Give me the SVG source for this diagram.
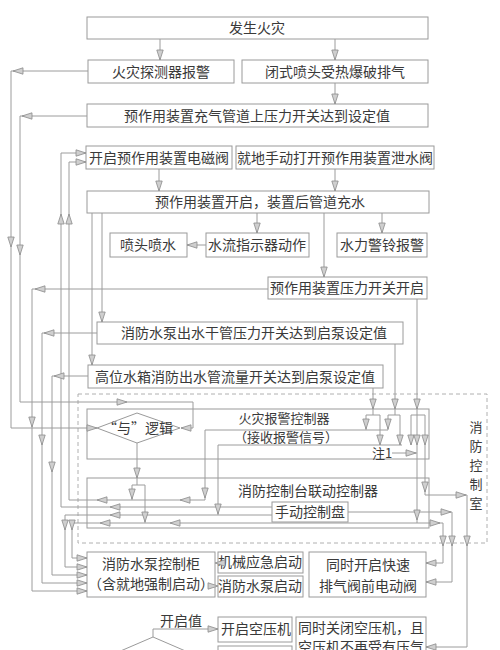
<svg xmlns="http://www.w3.org/2000/svg" xmlns:xlink="http://www.w3.org/1999/xlink" width="500" height="650" viewBox="0 0 500 650">
<style>
.bx{fill:#fff;stroke:#9a9a9a;stroke-width:1}
.ln{fill:none;stroke:#9c9c9c;stroke-width:1}
.ah{fill:#cfcfcf;stroke:#8a8a8a;stroke-width:0.8}
.t{font-family:"Noto Sans CJK SC","Noto Sans",sans-serif;font-size:14px;fill:#3a3a3a;text-anchor:middle}
.s{font-size:13px}
.dash{fill:none;stroke:#b0b0b0;stroke-width:1;stroke-dasharray:4,3}
</style>
<defs>
<path id="ar" class="ah" d="M0,0 L-10,-3.2 L-10,3.2 Z"/>
</defs>
<rect width="500" height="650" fill="#fff"/>

<rect id="control-room" class="dash" x="78" y="394" width="409" height="149"/>

<g id="n1"><rect class="bx" x="87" y="17" width="341" height="22"/><text class="t" x="257" y="33">发生火灾</text></g>
<g id="n2"><rect class="bx" x="88" y="60" width="146" height="23"/><text class="t" x="161" y="77">火灾探测器报警</text></g>
<g id="n3"><rect class="bx" x="242" y="60" width="186" height="23"/><text class="t" x="335" y="77">闭式喷头受热爆破排气</text></g>
<g id="n4"><rect class="bx" x="87" y="104" width="341" height="23"/><text class="t" x="257" y="121">预作用装置充气管道上压力开关达到设定值</text></g>
<g id="n5"><rect class="bx" x="86" y="146" width="146" height="23"/><text class="t" x="159" y="163">开启预作用装置电磁阀</text></g>
<g id="n6"><rect class="bx" x="236" y="146" width="198" height="23"/><text class="t" x="335" y="163">就地手动打开预作用装置泄水阀</text></g>
<g id="n7"><rect class="bx" x="87" y="191" width="342" height="22"/><text class="t" x="260" y="207">预作用装置开启，装置后管道充水</text></g>
<g id="n8"><rect class="bx" x="110" y="233" width="77" height="24"/><text class="t" x="148" y="250">喷头喷水</text></g>
<g id="n9"><rect class="bx" x="206" y="233" width="103" height="24"/><text class="t" x="257" y="250">水流指示器动作</text></g>
<g id="n10"><rect class="bx" x="337" y="233" width="90" height="24"/><text class="t" x="382" y="250">水力警铃报警</text></g>
<g id="n11"><rect class="bx" x="268" y="277" width="159" height="22"/><text class="t" x="347" y="293">预作用装置压力开关开启</text></g>
<g id="n12"><rect class="bx" x="97" y="322" width="306" height="22"/><text class="t" x="254" y="338">消防水泵出水干管压力开关达到启泵设定值</text></g>
<g id="n13"><rect class="bx" x="88" y="365" width="295" height="23"/><text class="t" x="235" y="382">高位水箱消防出水管流量开关达到启泵设定值</text></g>
<g id="n14"><rect class="bx" x="87" y="409" width="342" height="50"/><text class="t s" x="284" y="423">火灾报警控制器</text><text class="t s" x="286" y="442">（接收报警信号）</text></g>
<g id="n-and"><polygon class="bx" points="97,428 137,413 180,428 137,443"/><text class="t" x="138" y="433">“与”逻辑</text></g>
<g id="note1"><text class="t s" x="382" y="458">注1</text></g>
<g id="n15"><rect class="bx" x="87" y="478" width="342" height="50"/><text class="t" x="308" y="496">消防控制台联动控制器</text></g>
<g id="n16"><rect class="bx" x="272" y="502" width="76" height="20"/><text class="t" x="310" y="517">手动控制盘</text></g>
<g id="room-label"><text class="t s" x="476" y="432">消</text><text class="t s" x="476" y="451">防</text><text class="t s" x="476" y="470">控</text><text class="t s" x="476" y="489">制</text><text class="t s" x="476" y="508">室</text></g>
<g id="n17"><rect class="bx" x="87" y="552" width="128" height="45"/><text class="t" x="151" y="569">消防水泵控制柜</text><text class="t" x="151" y="589">（含就地强制启动）</text></g>
<g id="n18"><rect class="bx" x="218" y="552" width="85" height="21"/><text class="t" x="260" y="567">机械应急启动</text></g>
<g id="n19"><rect class="bx" x="218" y="576" width="85" height="21"/><text class="t" x="260" y="591">消防水泵启动</text></g>
<g id="n20"><rect class="bx" x="309" y="552" width="117" height="45"/><text class="t" x="368" y="570">同时开启快速</text><text class="t" x="368" y="591">排气阀前电动阀</text></g>
<g id="n-open"><polygon class="bx" points="153,637 95,662 153,687 211,662"/><text class="t" x="181" y="626">开启值</text></g>
<g id="n21"><rect class="bx" x="218" y="617" width="74" height="25"/><text class="t" x="256" y="634">开启空压机</text></g>
<g id="n21b"><rect class="bx" x="218" y="646" width="74" height="20"/></g>
<g id="n22"><rect class="bx" x="296" y="617" width="130" height="45"/><text class="t" x="361" y="633">同时关闭空压机，且</text><text class="t" x="361" y="652">空压机不再受有压气</text></g>

<g id="connectors">
<path class="ln" d="M160,39V60M335,39V60M335,83V104"/>
<path class="ln" d="M88,71H11V428H97"/>
<path class="ln" d="M87,116H20V402H193V428H181"/>
<path class="ln" d="M159,169V191M335,169V191M257,213V233M382,213V233M206,245H187M324,213V277M102,213V322M92,213V365"/>
<path class="ln" d="M268,289H32V591H87"/>
<path class="ln" d="M97,333H42V583H87"/>
<path class="ln" d="M88,376H52V575H87"/>
<path class="ln" d="M373,388V415M366,430V415H380V445"/>
<path class="ln" d="M395,344V415M388,430V415H400V445"/>
<path class="ln" d="M417,299V523M411,445V415H425V495H467V647H426"/>
<path class="ln" d="M392,453H417"/>
<path class="ln" d="M388,430H205V500H69V162H86"/>
<path class="ln" d="M402,445H218V515"/>
<path class="ln" d="M137,443V485M132,500V485H145V523"/>
<path class="ln" d="M272,507H61V153H86"/>
<path class="ln" d="M272,515H65V567H87"/>
<path class="ln" d="M426,563H443V523H72V558H87"/>
<path class="ln" d="M348,512H452V582H426"/>
<path class="ln" d="M153,637V629H218"/>

<g>
<use xlink:href="#ar" transform="translate(160,60) rotate(90)"/>
<use xlink:href="#ar" transform="translate(335,60) rotate(90)"/>
<use xlink:href="#ar" transform="translate(335,104) rotate(90)"/>
<use xlink:href="#ar" transform="translate(11,247) rotate(90)"/>
<use xlink:href="#ar" transform="translate(20,255) rotate(90)"/>
<use xlink:href="#ar" transform="translate(159,191) rotate(90)"/>
<use xlink:href="#ar" transform="translate(335,191) rotate(90)"/>
<use xlink:href="#ar" transform="translate(257,233) rotate(90)"/>
<use xlink:href="#ar" transform="translate(382,233) rotate(90)"/>
<use xlink:href="#ar" transform="translate(324,277) rotate(90)"/>
<use xlink:href="#ar" transform="translate(102,322) rotate(90)"/>
<use xlink:href="#ar" transform="translate(92,365) rotate(90)"/>
<use xlink:href="#ar" transform="translate(32,427) rotate(90)"/>
<use xlink:href="#ar" transform="translate(42,445) rotate(90)"/>
<use xlink:href="#ar" transform="translate(52,472) rotate(90)"/>
<use xlink:href="#ar" transform="translate(373,409) rotate(90)"/>
<use xlink:href="#ar" transform="translate(395,409) rotate(90)"/>
<use xlink:href="#ar" transform="translate(417,409) rotate(90)"/>
<use xlink:href="#ar" transform="translate(366,429) rotate(90)"/>
<use xlink:href="#ar" transform="translate(388,429) rotate(90)"/>
<use xlink:href="#ar" transform="translate(380,445) rotate(90)"/>
<use xlink:href="#ar" transform="translate(400,445) rotate(90)"/>
<use xlink:href="#ar" transform="translate(411,445) rotate(90)"/>
<use xlink:href="#ar" transform="translate(417,445) rotate(90)"/>
<use xlink:href="#ar" transform="translate(425,445) rotate(90)"/>
<use xlink:href="#ar" transform="translate(425,492) rotate(90)"/>
<use xlink:href="#ar" transform="translate(417,520) rotate(90)"/>
<use xlink:href="#ar" transform="translate(205,498) rotate(90)"/>
<use xlink:href="#ar" transform="translate(218,514) rotate(90)"/>
<use xlink:href="#ar" transform="translate(137,478) rotate(90)"/>
<use xlink:href="#ar" transform="translate(132,499) rotate(90)"/>
<use xlink:href="#ar" transform="translate(145,522) rotate(90)"/>
<use xlink:href="#ar" transform="translate(65,530) rotate(90)"/>
<use xlink:href="#ar" transform="translate(72,530) rotate(90)"/>
<use xlink:href="#ar" transform="translate(443,546) rotate(90)"/>
<use xlink:href="#ar" transform="translate(452,546) rotate(90)"/>
<use xlink:href="#ar" transform="translate(467,546) rotate(90)"/>
</g>
<g>
<use xlink:href="#ar" transform="translate(61,214) rotate(-90)"/>
<use xlink:href="#ar" transform="translate(69,214) rotate(-90)"/>
</g>
<g>
<use xlink:href="#ar" transform="translate(13,71) rotate(180)"/>
<use xlink:href="#ar" transform="translate(22,116) rotate(180)"/>
<use xlink:href="#ar" transform="translate(187,245) rotate(180)"/>
<use xlink:href="#ar" transform="translate(35,289) rotate(180)"/>
<use xlink:href="#ar" transform="translate(44,333) rotate(180)"/>
<use xlink:href="#ar" transform="translate(54,376) rotate(180)"/>
<use xlink:href="#ar" transform="translate(181,428) rotate(180)"/>
<use xlink:href="#ar" transform="translate(180,500) rotate(180)"/>
<use xlink:href="#ar" transform="translate(97,500) rotate(180)"/>
<use xlink:href="#ar" transform="translate(110,507) rotate(180)"/>
<use xlink:href="#ar" transform="translate(110,515) rotate(180)"/>
<use xlink:href="#ar" transform="translate(170,523) rotate(180)"/>
<use xlink:href="#ar" transform="translate(100,523) rotate(180)"/>
<use xlink:href="#ar" transform="translate(426,563) rotate(180)"/>
<use xlink:href="#ar" transform="translate(426,582) rotate(180)"/>
<use xlink:href="#ar" transform="translate(426,647) rotate(180)"/>
<use xlink:href="#ar" transform="translate(215,563) rotate(180)"/>
</g>
<g>
<use xlink:href="#ar" transform="translate(97,428)"/>
<use xlink:href="#ar" transform="translate(127,402)"/>
<use xlink:href="#ar" transform="translate(86,153)"/>
<use xlink:href="#ar" transform="translate(86,162)"/>
<use xlink:href="#ar" transform="translate(87,558)"/>
<use xlink:href="#ar" transform="translate(87,567)"/>
<use xlink:href="#ar" transform="translate(87,575)"/>
<use xlink:href="#ar" transform="translate(87,583)"/>
<use xlink:href="#ar" transform="translate(87,591)"/>
<use xlink:href="#ar" transform="translate(416,453)"/>
<use xlink:href="#ar" transform="translate(466,495)"/>
<use xlink:href="#ar" transform="translate(440,523)"/>
<use xlink:href="#ar" transform="translate(451,512)"/>
<use xlink:href="#ar" transform="translate(218,586)"/>
<use xlink:href="#ar" transform="translate(218,629)"/>
</g>
</g>
</svg>
